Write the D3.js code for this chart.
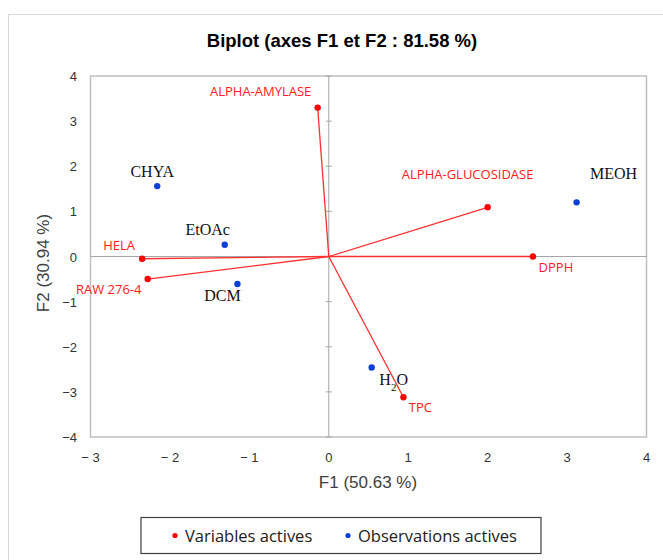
<html>
<head>
<meta charset="utf-8">
<style>
  body { margin: 0; background: #fff; }
  text { font-family: "Liberation Sans", Arial, sans-serif; }
</style>
</head>
<body>
<svg width="663" height="560" id="biplot"></svg>

<script src="https://d3js.org/d3.v7.min.js"></script>
<script>
// variables (red vectors)
var varNames = ["ALPHA-AMYLASE", "ALPHA-GLUCOSIDASE", "DPPH", "HELA", "RAW 276-4", "TPC"];
var varF1 = [-0.14, 2.00, 2.57, -2.35, -2.28, 0.94];
var varF2 = [3.30, 1.09, 0.00, -0.05, -0.50, -3.12];

// observations (blue points)
var obsNames = ["CHYA", "EtOAc", "DCM", "MEOH", "H2O"];
var obsF1 = [-2.16, -1.31, -1.15, 3.12, 0.54];
var obsF2 = [1.56, 0.26, -0.61, 1.20, -2.46];

var xTicks = [-3, -2, -1, 0, 1, 2, 3, 4];
var yTicks = [-4, -3, -2, -1, 0, 1, 2, 3, 4];

var svg = d3.select("#biplot");
var x = d3.scaleLinear().domain([-3, 4]).range([90.5, 646.5]);
var y = d3.scaleLinear().domain([-4, 4]).range([437, 76]);

// outer chart border
svg.append("rect").attr("x", 8.5).attr("y", 14.5).attr("width", 700).attr("height", 600)
    .style("fill", "none").style("stroke", "#d9d9d9");

svg.append("text").attr("x", 342).attr("y", 47).attr("text-anchor", "middle")
    .style("font-size", "18.5px").style("font-weight", "bold").style("fill", "#000")
    .text("Biplot (axes F1 et F2 : 81.58 %)");

// plot frame
svg.append("rect").attr("x", x(-3)).attr("y", y(4)).attr("width", x(4) - x(-3)).attr("height", y(-4) - y(4))
    .style("fill", "none").style("stroke", "#bfbfbf").style("stroke-width", 1.5);

// zero lines
svg.append("line").attr("x1", x(-3)).attr("x2", x(4)).attr("y1", y(0)).attr("y2", y(0))
    .style("stroke", "#a6a6a6");
svg.append("line").attr("x1", x(0)).attr("x2", x(0)).attr("y1", y(4)).attr("y2", y(-4))
    .style("stroke", "#a6a6a6");
svg.selectAll(".ytick").data(yTicks).enter().append("line")
    .attr("x1", x(0) - 3).attr("x2", x(0) + 3)
    .attr("y1", function(d) { return y(d); }).attr("y2", function(d) { return y(d); })
    .style("stroke", "#a6a6a6");

// tick labels
svg.selectAll(".xlab").data(xTicks).enter().append("text")
    .attr("x", function(d) { return x(d); }).attr("y", 462).attr("text-anchor", "middle")
    .style("font-size", "13px").style("fill", "#333")
    .text(function(d) { return d < 0 ? "\u2212 " + Math.abs(d) : d; });
svg.selectAll(".ylab").data(yTicks).enter().append("text")
    .attr("x", 77).attr("y", function(d) { return y(d) + 5; }).attr("text-anchor", "end")
    .style("font-size", "13px").style("fill", "#333")
    .text(function(d) { return d < 0 ? "\u2212" + Math.abs(d) : d; });

svg.append("text").attr("x", 368).attr("y", 488).attr("text-anchor", "middle")
    .style("font-size", "17px").style("fill", "#404040").text("F1 (50.63 %)");
svg.append("text").attr("transform", "translate(49,263) rotate(-90)").attr("text-anchor", "middle")
    .style("font-size", "17px").style("fill", "#404040").text("F2 (30.94 %)");

// variable vectors
var vars = varNames.map(function(n, i) { return {name: n, f1: varF1[i], f2: varF2[i]}; });
var varLabel = {
    "ALPHA-AMYLASE": [-57, -12], "ALPHA-GLUCOSIDASE": [-20, -28], "DPPH": [23, 15],
    "HELA": [-23, -9], "RAW 276-4": [-39, 15], "TPC": [17, 15]
};
svg.selectAll(".vec").data(vars).enter().append("line")
    .attr("x1", x(0)).attr("y1", y(0))
    .attr("x2", function(d) { return x(d.f1); }).attr("y2", function(d) { return y(d.f2); })
    .style("stroke", "#ff3030").style("stroke-width", 1.3);
svg.selectAll(".vdot").data(vars).enter().append("circle")
    .attr("cx", function(d) { return x(d.f1); }).attr("cy", function(d) { return y(d.f2); })
    .attr("r", 3.2).style("fill", "#ff0000");
svg.selectAll(".vlab").data(vars).enter().append("text")
    .attr("x", function(d) { return x(d.f1) + varLabel[d.name][0]; })
    .attr("y", function(d) { return y(d.f2) + varLabel[d.name][1]; })
    .attr("text-anchor", "middle")
    .style("font-family", "'Open Sans', sans-serif").style("font-size", "13px").style("fill", "#ff2020")
    .text(function(d) { return d.name; });

// observations
var obs = obsNames.map(function(n, i) { return {name: n, f1: obsF1[i], f2: obsF2[i]}; });
var obsLabel = {
    "CHYA": [-5, -9], "EtOAc": [-17, -10], "DCM": [-15, 17], "MEOH": [37, -23], "H2O": [22, 17]
};
svg.selectAll(".odot").data(obs).enter().append("circle")
    .attr("cx", function(d) { return x(d.f1); }).attr("cy", function(d) { return y(d.f2); })
    .attr("r", 3.2).style("fill", "#0b3fd8");
var olab = svg.selectAll(".olab").data(obs).enter().append("text")
    .attr("x", function(d) { return x(d.f1) + obsLabel[d.name][0]; })
    .attr("y", function(d) { return y(d.f2) + obsLabel[d.name][1]; })
    .attr("text-anchor", "middle")
    .style("font-family", "'Liberation Serif', 'Times New Roman', serif").style("font-size", "16px")
    .style("fill", "#111");
olab.each(function(d) {
    var t = d3.select(this);
    if (d.name === "H2O") {
        t.append("tspan").text("H");
        t.append("tspan").attr("baseline-shift", "sub").style("font-size", "11px").text("2");
        t.append("tspan").text("O");
    } else {
        t.text(d.name);
    }
});

// legend
svg.append("rect").attr("x", 141).attr("y", 517.5).attr("width", 400).attr("height", 36)
    .style("fill", "none").style("stroke", "#404040").style("stroke-width", 1.2);
var legend = [["Variables actives", "#ff0000", 175], ["Observations actives", "#0b3fd8", 348]];
legend.forEach(function(l) {
    svg.append("circle").attr("cx", l[2]).attr("cy", 535.5).attr("r", 2.6).style("fill", l[1]);
    svg.append("text").attr("x", l[2] + 10).attr("y", 541.5)
        .style("font-family", "'Open Sans', sans-serif").style("font-size", "16.5px").style("fill", "#202020")
        .text(l[0]);
});
</script>
</body>
</html>
